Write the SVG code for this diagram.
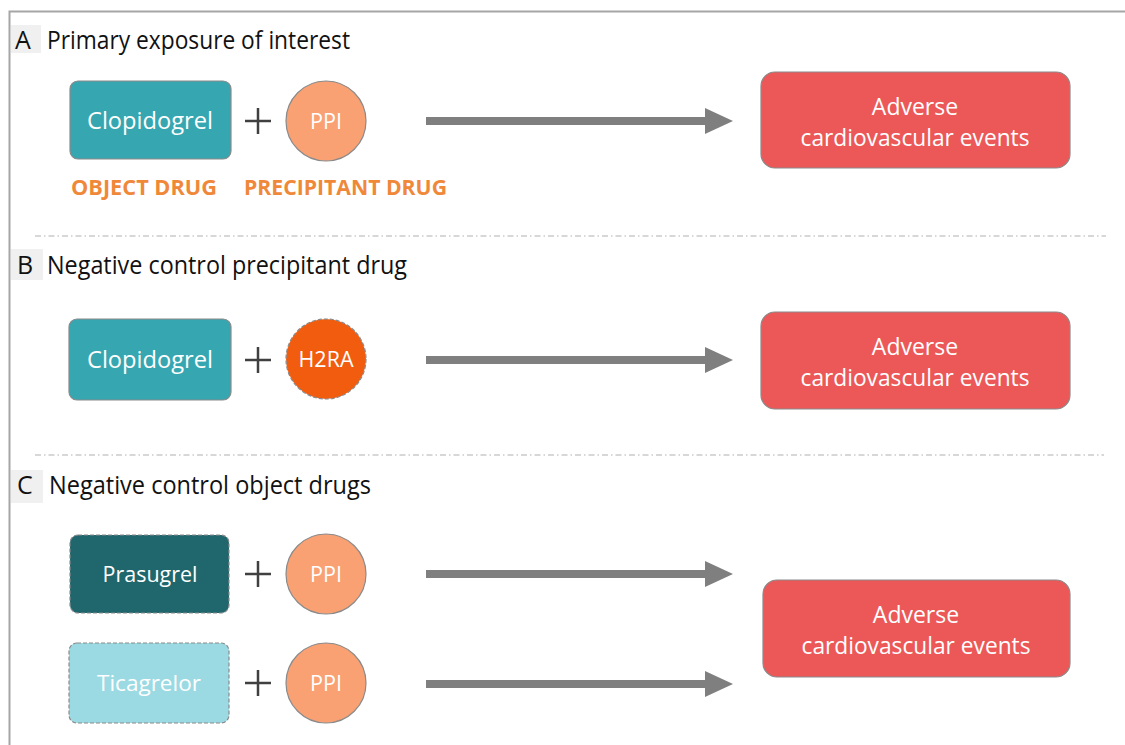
<svg xmlns="http://www.w3.org/2000/svg" width="1125" height="745" viewBox="0 0 1125 745">
<defs>
<style>
.frame{fill:none;stroke:#A6A6A6;stroke-width:2}
.sep{stroke:#B0B0B0;stroke-width:1;stroke-dasharray:6 3 1.5 3;fill:none}
.lblbg{fill:#F0F0F0}
.title{font-family:"Open Sans","Noto Sans",sans-serif;font-size:25px;fill:#111}
.drug{font-family:"Open Sans","Noto Sans",sans-serif;font-size:23px;fill:#fff;text-anchor:middle}
.small{font-family:"Open Sans","Noto Sans",sans-serif;font-size:22px;fill:#fff;text-anchor:middle}
.role{font-family:"Open Sans","Noto Sans",sans-serif;font-size:21px;font-weight:bold;fill:#F0883A}
.plus{stroke:#404040;stroke-width:2.5}
.arrow{stroke:#7F7F7F;stroke-width:8;fill:none}
.head{fill:#7F7F7F}
.clop{fill:#36A6B1;stroke:#8A8A8A;stroke-width:1.2}
.ppi{fill:#F9A173;stroke:#8A8A8A;stroke-width:1.2}
.h2ra{fill:#F25C0F;stroke:#8A8A8A;stroke-width:1.2;stroke-dasharray:4 2}
.pras{fill:#1F676C;stroke:#8A8A8A;stroke-width:1.2;stroke-dasharray:4 2}
.tica{fill:#9BDAE2;stroke:#8A8A8A;stroke-width:1.2;stroke-dasharray:4 2}
.ace{fill:#EC5858;stroke:#8A8A8A;stroke-width:1.2}
</style>
</defs>
<rect width="1125" height="745" fill="#fff"/>
<path class="frame" d="M9.5 760 V11.5 H1130"/>
<line class="sep" x1="35" y1="236" x2="1106" y2="236"/>
<line class="sep" x1="35" y1="455" x2="1104" y2="455"/>

<g id="title-A">
<rect class="lblbg" x="11" y="25" width="30" height="28"/>
<text class="title" x="15" y="49">A</text>
<text class="title" x="47" y="49" textLength="303" lengthAdjust="spacingAndGlyphs">Primary exposure of interest</text>
</g>
<g id="title-B">
<rect class="lblbg" x="11" y="249" width="32" height="31"/>
<text class="title" x="17" y="274">B</text>
<text class="title" x="47" y="274" textLength="360" lengthAdjust="spacingAndGlyphs">Negative control precipitant drug</text>
</g>
<g id="title-C">
<rect class="lblbg" x="11" y="470" width="32" height="33"/>
<text class="title" x="17" y="494">C</text>
<text class="title" x="49" y="494" textLength="322" lengthAdjust="spacingAndGlyphs">Negative control object drugs</text>
</g>

<g id="clopidogrel-A">
<rect class="clop" x="70" y="81" width="161" height="78" rx="8"/>
<text class="drug" x="150" y="129" textLength="126" lengthAdjust="spacingAndGlyphs">Clopidogrel</text>
</g>
<g id="plus-A"><path class="plus" d="M245 121 H271 M258 108 V134"/></g>
<g id="ppi-A">
<circle class="ppi" cx="326" cy="121" r="40"/>
<text class="small" x="326" y="129" textLength="32" lengthAdjust="spacingAndGlyphs">PPI</text>
</g>
<g id="object-drug-label"><text class="role" x="71" y="195" textLength="146" lengthAdjust="spacingAndGlyphs">OBJECT DRUG</text></g>
<g id="precipitant-drug-label"><text class="role" x="244" y="195" textLength="203" lengthAdjust="spacingAndGlyphs">PRECIPITANT DRUG</text></g>
<g id="outcome-A">
<rect class="ace" x="761" y="72" width="309" height="96" rx="14"/>
<text class="drug" x="915" y="115">Adverse</text>
<text class="drug" x="915" y="146" textLength="229" lengthAdjust="spacingAndGlyphs">cardiovascular events</text>
</g>

<g id="clopidogrel-B">
<rect class="clop" x="69" y="319" width="162" height="81" rx="8"/>
<text class="drug" x="150" y="368" textLength="126" lengthAdjust="spacingAndGlyphs">Clopidogrel</text>
</g>
<g id="plus-B"><path class="plus" d="M245 360 H271 M258 347 V373"/></g>
<g id="h2ra-B">
<circle class="h2ra" cx="326" cy="359" r="40"/>
<text class="small" x="326" y="367" textLength="55" lengthAdjust="spacingAndGlyphs">H2RA</text>
</g>
<g id="outcome-B">
<rect class="ace" x="761" y="312" width="309" height="97" rx="14"/>
<text class="drug" x="915" y="355">Adverse</text>
<text class="drug" x="915" y="386" textLength="229" lengthAdjust="spacingAndGlyphs">cardiovascular events</text>
</g>

<g id="prasugrel-C">
<rect class="pras" x="70" y="535" width="159" height="78" rx="8"/>
<text class="small" x="150" y="582" textLength="95" lengthAdjust="spacingAndGlyphs">Prasugrel</text>
</g>
<g id="plus-C1"><path class="plus" d="M245 574 H271 M258 561 V587"/></g>
<g id="ppi-C1">
<circle class="ppi" cx="326" cy="574" r="40"/>
<text class="small" x="326" y="582" textLength="32" lengthAdjust="spacingAndGlyphs">PPI</text>
</g>
<g id="ticagrelor-C">
<rect class="tica" x="69" y="643" width="160" height="80" rx="8"/>
<text class="small" x="149" y="691" textLength="104" lengthAdjust="spacingAndGlyphs">Ticagrelor</text>
</g>
<g id="plus-C2"><path class="plus" d="M245 683 H271 M258 670 V696"/></g>
<g id="ppi-C2">
<circle class="ppi" cx="326" cy="683" r="40"/>
<text class="small" x="326" y="691" textLength="32" lengthAdjust="spacingAndGlyphs">PPI</text>
</g>
<g id="outcome-C">
<rect class="ace" x="763" y="580" width="307" height="97" rx="14"/>
<text class="drug" x="916" y="623">Adverse</text>
<text class="drug" x="916" y="654" textLength="229" lengthAdjust="spacingAndGlyphs">cardiovascular events</text>
</g>

<g id="connectors">
<line class="arrow" x1="426" y1="121" x2="706" y2="121"/>
<polygon class="head" points="705,108 733,121 705,134"/>
<line class="arrow" x1="426" y1="360" x2="706" y2="360"/>
<polygon class="head" points="705,347 733,360 705,373"/>
<line class="arrow" x1="426" y1="574" x2="706" y2="574"/>
<polygon class="head" points="705,561 733,574 705,587"/>
<line class="arrow" x1="426" y1="684" x2="706" y2="684"/>
<polygon class="head" points="705,671 733,684 705,697"/>
</g>
</svg>
